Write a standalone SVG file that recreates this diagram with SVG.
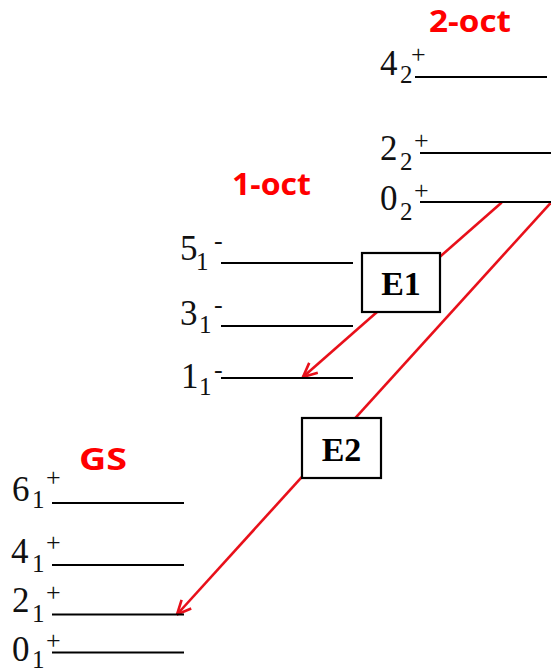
<svg xmlns="http://www.w3.org/2000/svg" width="551" height="672" viewBox="0 0 551 672">
<style>
.lvl{stroke:#000;stroke-width:2.2;fill:none}
.d{font-family:"Liberation Serif","Times New Roman",serif;font-size:35px;fill:#111}
.s{font-family:"Liberation Serif","Times New Roman",serif;font-size:25px;fill:#111}
.p{font-family:"Liberation Serif","Times New Roman",serif;font-size:26px;fill:#111}
.band{font-family:"Open Sans","Noto Sans",sans-serif;font-weight:700;font-size:30px;fill:#f00}
.box{fill:#fff;stroke:#000;stroke-width:2.2}
.bl{font-family:"Liberation Serif","Times New Roman",serif;font-weight:700;font-size:34px;fill:#000;text-anchor:middle}
.arr{stroke:#e8101a;stroke-width:2.6;fill:none}
</style>
<defs>
<marker id="head" markerUnits="userSpaceOnUse" viewBox="0 0 16 16" refX="15" refY="8" markerWidth="16" markerHeight="16" orient="auto">
<path d="M1,1.5 L15,8 L1,14.5" fill="none" stroke="#e8101a" stroke-width="2.6"/>
</marker>
</defs>
<rect width="551" height="672" fill="#fff"/>
<g id="labels">
<text class="band" x="429" y="32" textLength="82" lengthAdjust="spacingAndGlyphs">2-oct</text>
<text class="band" x="232" y="195" textLength="79" lengthAdjust="spacingAndGlyphs">1-oct</text>
<text class="band" x="79" y="470" textLength="48" lengthAdjust="spacingAndGlyphs">GS</text>
</g>
<g id="connectors">
<line class="arr" x1="501.7" y1="202.5" x2="303" y2="377" marker-end="url(#head)"/>
<line class="arr" x1="550.5" y1="203" x2="177" y2="614.5" marker-end="url(#head)"/>
</g>
<g id="lvl-4-2">
<line class="lvl" x1="415" y1="77" x2="547" y2="77"/>
<text class="d" x="380" y="75">4</text><text class="s" x="400" y="83">2</text><text class="p" x="411" y="63">+</text>
</g>
<g id="lvl-2-2">
<line class="lvl" x1="420" y1="153" x2="551" y2="153"/>
<text class="d" x="380" y="160">2</text><text class="s" x="400" y="170">2</text><text class="p" x="414" y="149">+</text>
</g>
<g id="lvl-0-2">
<line class="lvl" x1="420" y1="202" x2="551" y2="202"/>
<text class="d" x="380" y="210">0</text><text class="s" x="400" y="220">2</text><text class="p" x="414" y="199">+</text>
</g>
<g id="lvl-5-1">
<line class="lvl" x1="221" y1="263" x2="353" y2="263"/>
<text class="d" x="180" y="260">5</text><text class="s" x="196" y="270">1</text><text class="p" x="214" y="249">-</text>
</g>
<g id="lvl-3-1">
<line class="lvl" x1="221" y1="326" x2="353" y2="326"/>
<text class="d" x="180" y="325">3</text><text class="s" x="199" y="333">1</text><text class="p" x="214" y="313">-</text>
</g>
<g id="lvl-1-1">
<line class="lvl" x1="221" y1="378" x2="353" y2="378"/>
<text class="d" x="181" y="388">1</text><text class="s" x="199" y="395">1</text><text class="p" x="214" y="378">-</text>
</g>
<g id="lvl-6-1">
<line class="lvl" x1="52" y1="503" x2="184" y2="503"/>
<text class="d" x="12" y="501">6</text><text class="s" x="32" y="508">1</text><text class="p" x="46" y="486">+</text>
</g>
<g id="lvl-4-1">
<line class="lvl" x1="52" y1="565" x2="184" y2="565"/>
<text class="d" x="11" y="563">4</text><text class="s" x="32" y="572">1</text><text class="p" x="46" y="551">+</text>
</g>
<g id="lvl-2-1">
<line class="lvl" x1="52" y1="614.5" x2="184" y2="614.5"/>
<text class="d" x="12" y="612">2</text><text class="s" x="32" y="622">1</text><text class="p" x="46" y="601">+</text>
</g>
<g id="lvl-0-1">
<line class="lvl" x1="52" y1="652.5" x2="184" y2="652.5"/>
<text class="d" x="12" y="661">0</text><text class="s" x="32" y="668">1</text><text class="p" x="46" y="649">+</text>
</g>
<g id="box-E1">
<rect class="box" x="362" y="253" width="78" height="59"/>
<text class="bl" x="401" y="295">E1</text>
</g>
<g id="box-E2">
<rect class="box" x="302" y="418" width="79" height="60"/>
<text class="bl" x="341.5" y="461">E2</text>
</g>
</svg>
